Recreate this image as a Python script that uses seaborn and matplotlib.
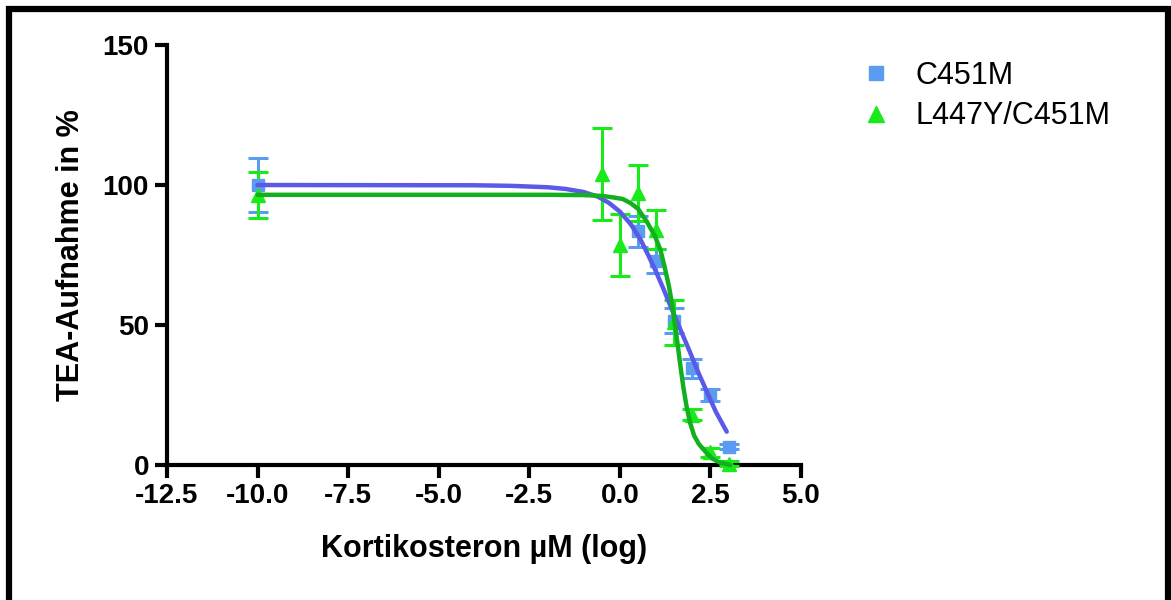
import matplotlib
matplotlib.use("Agg")
import matplotlib.pyplot as plt
from matplotlib.lines import Line2D
from matplotlib.patches import Rectangle
import seaborn as sns
import pandas as pd

# Messpunkte (log µM, % Aufnahme, SEM)
c451m_x = [-10.0, 0.5, 1.0, 1.5, 2.0, 2.5, 3.0]
c451m_y = [100.0, 83.5, 73.0, 51.5, 34.5, 25.0, 6.6]
c451m_err = [9.8, 5.5, 4.3, 4.5, 3.4, 2.0, 1.0]

l447y_x = [-10.0, -0.5, 0.0, 0.5, 1.0, 1.5, 2.0, 2.5, 3.0]
l447y_y = [96.5, 104.0, 78.5, 97.0, 84.0, 51.0, 18.0, 4.5, 0.5]
l447y_err = [8.3, 16.5, 11.0, 10.0, 7.0, 8.0, 2.0, 1.5, 1.0]

# Fitkurven
fit_c451m_x = [-10.0, -4.0, -3.0, -2.0, -1.5, -1.0, -0.6, -0.3, 0.0, 0.3, 0.56,
               0.8, 1.0, 1.2, 1.47, 1.7, 1.93, 2.15, 2.38, 2.65, 2.95]
fit_c451m_y = [100.0, 99.9, 99.7, 99.2, 98.6, 97.5, 95.8, 93.6, 90.5, 86.0, 80.8,
               74.5, 69.0, 63.0, 54.5, 47.5, 40.5, 33.5, 26.8, 19.0, 11.9]
fit_l447y_x = [-10.0, -2.0, -1.0, -0.5, -0.2, 0.08, 0.3, 0.5, 0.74, 0.97, 1.12,
               1.24, 1.36, 1.47, 1.57, 1.66, 1.75, 1.84, 1.94, 2.05, 2.18, 2.38,
               2.55, 2.75, 3.05]
fit_l447y_y = [96.5, 96.5, 96.4, 96.1, 95.6, 95.0, 93.5, 91.5, 87.0, 81.7, 76.8,
               70.5, 63.5, 55.0, 45.5, 36.5, 28.0, 21.0, 15.0, 10.5, 7.5, 4.5,
               2.3, 0.9, 0.0]

BLAU_PUNKT = "#5b9cf2"
BLAU_LINIE = "#5a5ae6"
GRUEN_PUNKT = "#19ea19"
GRUEN_LINIE = "#12b01e"

sns.set_style("ticks")
plt.rcParams["font.family"] = ["Liberation Sans", "DejaVu Sans"]
plt.rcParams["text.color"] = "black"
plt.rcParams["axes.labelcolor"] = "black"
plt.rcParams["xtick.color"] = "black"
plt.rcParams["ytick.color"] = "black"

fig = plt.figure(figsize=(11.71, 6.0), dpi=100)
ax = fig.add_axes([167 / 1171, (600 - 465) / 600, (801 - 167) / 1171, (465 - 45) / 600])

ax.errorbar(c451m_x, c451m_y, yerr=c451m_err, fmt="s", color=BLAU_PUNKT,
            markersize=9, elinewidth=2.2, capsize=7, capthick=2.2, clip_on=False, zorder=3)
ax.errorbar(l447y_x, l447y_y, yerr=l447y_err, fmt="^", color=GRUEN_PUNKT,
            markersize=10, elinewidth=2.2, capsize=7, capthick=2.2, clip_on=False, zorder=3)

kurve_blau = pd.DataFrame({"x": fit_c451m_x, "y": fit_c451m_y})
kurve_gruen = pd.DataFrame({"x": fit_l447y_x, "y": fit_l447y_y})
sns.lineplot(data=kurve_blau, x="x", y="y", ax=ax, color=BLAU_LINIE, linewidth=3.2,
             sort=False, estimator=None, zorder=4)
sns.lineplot(data=kurve_gruen, x="x", y="y", ax=ax, color=GRUEN_LINIE, linewidth=3.2,
             sort=False, estimator=None, zorder=5)
for ln in ax.lines[-2:]:
    ln.set_solid_capstyle("round")
    ln.set_solid_joinstyle("round")
    ln.set_clip_on(False)

ax.set_xlim(-12.5, 5.0)
ax.set_ylim(0, 150)
ax.set_xticks([-12.5, -10.0, -7.5, -5.0, -2.5, 0.0, 2.5, 5.0])
ax.set_xticklabels(["-12.5", "-10.0", "-7.5", "-5.0", "-2.5", "0.0", "2.5", "5.0"])
ax.set_yticks([0, 50, 100, 150])
sns.despine(ax=ax)
for s in ("left", "bottom"):
    ax.spines[s].set_linewidth(3)
    ax.spines[s].set_color("black")
ax.tick_params(axis="both", width=3, length=9, labelsize=20, pad=4, color="black")
for lab in ax.get_xticklabels() + ax.get_yticklabels():
    lab.set_fontweight("bold")

ax.set_xlabel("Kortikosteron µM (log)", fontsize=22, fontweight="bold", labelpad=18)
ax.set_ylabel("TEA-Aufnahme in %", fontsize=22, fontweight="bold", labelpad=12)

griffe = [
    Line2D([], [], marker="s", linestyle="none", color=BLAU_PUNKT, markersize=10),
    Line2D([], [], marker="^", linestyle="none", color=GRUEN_PUNKT, markersize=11),
]
fig.legend(griffe, ["C451M", "L447Y/C451M"], loc="upper left",
           bbox_to_anchor=(830 / 1171, 1 - 33 / 600), frameon=False,
           fontsize=22, handletextpad=0.7, labelspacing=0.35, handlelength=1.2)

# schwarzer Rahmen um das Bild
fig.patches.append(Rectangle((8.5 / 1171, -0.05), (1168 - 8.5) / 1171, 1.05 - 8.5 / 600,
                             transform=fig.transFigure, fill=False, edgecolor="black",
                             linewidth=4.5, clip_on=False))

fig.savefig("out.png", dpi=100, facecolor="white")
